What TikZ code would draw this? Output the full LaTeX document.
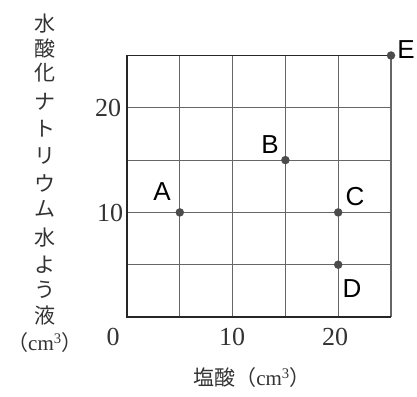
\documentclass[tikz,border=0pt]{standalone}
\usepackage{fontspec}
\setmainfont{Liberation Serif}
\newfontfamily\cjk{Noto Sans CJK JP}
\newfontfamily\lsans{Liberation Sans}
\begin{document}
\begin{tikzpicture}[x=1pt,y=-1pt,
  gridline/.style={draw=black!60,line width=1.1pt},
  frameline/.style={draw=black!85,line width=1.3pt},
  dot/.style={circle,fill=black!70,inner sep=0pt,minimum size=8.5pt},
  ptlabel/.style={inner sep=0pt,font=\lsans\fontsize{26}{30}\selectfont},
  ticklabel/.style={inner sep=0pt,font=\fontsize{26}{30}\selectfont,text=black!80},
  jch/.style={inner sep=0pt,font=\cjk\fontsize{21}{24}\selectfont,text=black!80}]
\useasboundingbox (0,0) rectangle (417,396);
\begin{scope}[shift={(127,317)},x=10.56pt,y=10.46pt]
  \foreach \i in {5,10,15,20,25} {
    \draw[gridline] (\i,0) -- (\i,25);
    \draw[gridline] (0,\i) -- (25,\i);
  }
  \draw[frameline] (0,25) -- (0,0) -- (25,0);
  \draw[frameline] (0,25) -- (25,25);
  \node[dot] (A) at (5,10) {};
  \node[dot] (B) at (15,15) {};
  \node[dot] (C) at (20,10) {};
  \node[dot] (D) at (20,5) {};
  \node[dot] (E) at (25,25) {};
\end{scope}
\node[ptlabel] (lA) at (162,192) {A};
\node[ptlabel] (lB) at (270,145) {B};
\node[ptlabel] (lC) at (355,197) {C};
\node[ptlabel] (lD) at (352,289) {D};
\node[ptlabel] (lE) at (406,50) {E};
\node[ticklabel] (t20) at (108,108) {20};
\node[ticklabel] (t10) at (110,213) {10};
\node[ticklabel] (t0) at (113,337) {0};
\node[ticklabel] (x10) at (232,337) {10};
\node[ticklabel] (x20) at (335,337) {20};
\node[jch] (c1) at (45,24) {水};
\node[jch] (c2) at (45,48) {酸};
\node[jch] (c3) at (45,73) {化};
\node[jch] (c4) at (45,102) {ナ};
\node[jch] (c5) at (45,129) {ト};
\node[jch] (c6) at (45,156) {リ};
\node[jch] (c7) at (45,183) {ウ};
\node[jch] (c8) at (45,209) {ム};
\node[jch] (c9) at (45,238) {水};
\node[jch] (c10) at (45,265) {よ};
\node[jch] (c11) at (45,290) {う};
\node[jch] (c12) at (45,316) {液};
\node[jch] (c13) at (45,343) {（{\rmfamily\fontsize{21}{24}\selectfont cm\textsuperscript{3}}）};
\node[jch] (xl) at (252,378) {塩酸（{\rmfamily\fontsize{21}{24}\selectfont cm\textsuperscript{3}}）};
\end{tikzpicture}
\end{document}
